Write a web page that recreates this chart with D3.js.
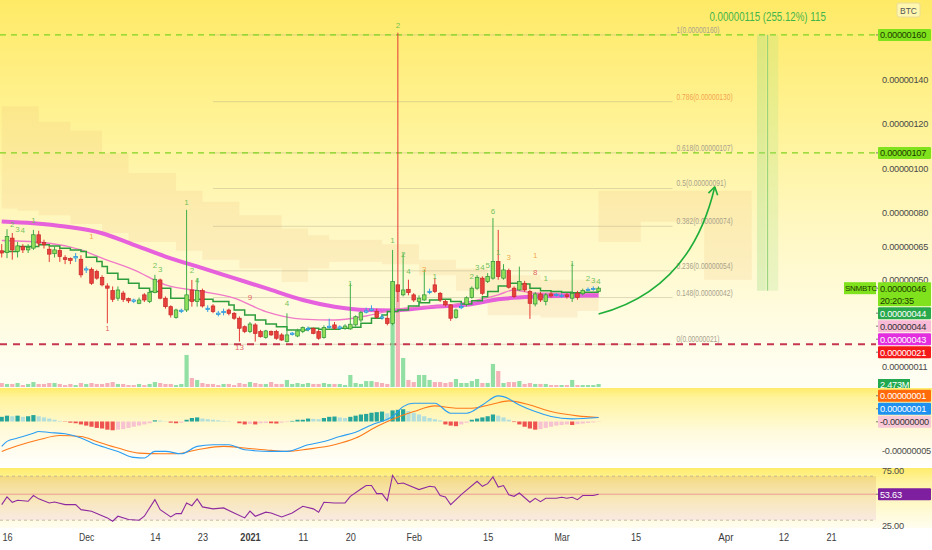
<!DOCTYPE html>
<html>
<head>
<meta charset="utf-8">
<script src="https://cdn.jsdelivr.net/npm/d3@7"></script>
<style>
  body { margin: 0; background: #fff; }
  svg { display: block; font-family: "Liberation Sans", Arial, sans-serif; }
</style>
</head>
<body>
<div id="chart"></div>
<script>
// ---- data (prices in satoshi, 1e-8 BTC) ----
const firstDay = Date.UTC(2020, 10, 15);
const DAY = 86400000;

const opens = [63,62.2,68.7,62.7,64.9,63.4,64.2,70.2,66.7,63.7,
  61.7,63.1,59.9,59.5,59.8,59.2,54.4,54.7,53.7,51,
  47.2,45.1,41.7,44,41.5,40.9,39.4,43.2,40.2,44.2,
  49.9,41.7,37.9,33.1,35.8,36.4,45.4,40.2,45.1,37.2,
  38.2,35.0,35.2,36.4,34.9,32.7,28.9,26.7,29.7,26.7,
  24.1,26.7,26.7,25.2,22.2,25.4,24.7,26.7,27.6,28.2,
  26.7,24,28.5,29.7,28.2,28.0,27.9,29.7,31.9,35.4,
  36.2,35.7,33.3,32.7,30.4,47.7,43.2,45.7,43.2,40.2,
  40.9,44.2,47.7,43.9,40.2,38.7,33.1,37.4,38.9,42,
  46.2,50.7,49.2,50.7,58.2,50.7,54.1,46.2,45.4,48.4,
  44.7,39.1,43.6,40.2,43.6,43.4,42.5,43.2,41.7,44,
  43.7,45.3,45.6,44.7];
const highs = [66,72.7,71,67,66,66,72.4,72,68,65,
  65,64,61,60,62,61,56,55.5,54.5,52,
  48.4,47,47,45,42,41.5,42,44,45,52.2,
  50.5,42.5,38.5,37,37,81.4,49.9,50.7,46,38.5,
  39,36,37,37,35.5,33.5,29.5,31,30.5,27.5,
  27.5,27.2,27.5,26,34.9,26.5,28,29,29,28.5,
  27.5,29.5,32.5,31,29.5,30,48.4,34,36,37.5,
  38.5,37,34.5,34,63.4,161,61.9,50,44,43,
  54.4,46,50.7,44.5,41,39,37,39.5,42.5,47,
  52,51.5,53,77.7,72.4,57,55,47,55.9,49.5,
  45.5,44.5,44.5,44,44.5,44,43.8,44,57.4,45,
  46,46.5,47,47];
const lows = [60,59.7,59,60,62,62,63.4,65,64,58,
  60,58,57,57,58,51,53,47.7,50,47,
  30.4,40,40.5,40,39.5,39.5,39,40,39.5,43.9,
  41.2,37,33,32.5,35,35.5,37.9,37.9,37.5,35.5,
  35,33.5,34,34,32,22.2,26,26,22.2,24,
  23.5,24.8,23,22.5,21.8,24.9,24.2,26,26.8,25.5,
  23,23.5,28,27.5,27.5,27.5,27.5,29,31,34.8,
  35.8,32.5,32,29.5,29.5,40,42.5,43,40,39.5,
  40.5,43.5,44,40,38,31.5,32.5,36.8,38,41.5,
  45.5,43,48.5,50,50,50,46,41.8,45,44.5,
  32.4,38,40,38.5,42,42.4,42,41.5,40,41,
  43,44.9,45,44.2];
const closes = [62,69.4,63.4,65.2,63.4,64.5,70.2,66.4,65.7,61.5,
  63.4,60.4,59.1,58.7,60.4,52.2,54.9,48.4,50.7,47.7,
  46.2,41.2,45.4,41.2,40.5,40.3,40.9,40.9,44.2,50.2,
  41.7,37.9,34.2,36.4,36.3,43.2,40.2,45.1,38.2,36.6,
  35.7,34.4,35.8,34.9,32.7,28.2,26.7,30.1,25.9,24.4,
  27,25.2,23.7,22.9,25.2,26.0,27,28.5,28.1,25.9,
  23.7,28.5,29.1,28.2,28.8,29.2,30,33.4,35.2,36.0,
  36.8,33.1,32.8,30.4,49.2,44.7,45.4,44.2,40.9,41.7,
  43.2,44.8,44.7,40.9,38.7,32.7,36.4,38.0,41.9,46.2,
  51.1,43.9,51.5,58.2,51.4,54.4,46.6,42.4,49.2,45.4,
  39.4,43.6,40.9,43.2,42.7,42.9,43.0,42.4,43.9,42,
  45.2,45.7,46.1,46.2];
// volume in millions
const volumes = [3.3,2.5,2.5,3.3,1.6,2.5,4.1,2.5,2.5,3.3,3.3,2.5,1.6,2.5,1.6,
  3.3,2.5,3.3,2.5,2.5,3.3,4.1,2.5,2.5,1.6,1.6,2.5,1.6,2.5,4.1,3.3,2.5,2.5,1.6,2.5,
  26.4,7.4,5.8,3.3,2.5,2.5,1.6,2.5,2.5,1.6,
  3.3,2.5,4.1,3.3,2.5,2.5,4.1,2.5,2.5,5.8,2.5,3.3,
  2.5,3.3,2.5,2.5,3.3,2.5,2.5,2.5,1.6,9.9,3.3,2.5,4.9,4.9,4.1,3.3,2.5,
  86.5,84,23.9,
  5.8,4.1,9.9,9.9,5.8,4.1,4.1,3.3,4.1,6.6,3.3,3.3,4.9,6.6,3.3,3.3,
  19.0,13.2,3.3,4.1,4.1,4.9,2.5,3.3,2.5,2.5,2.5,1.6,1.6,1.6,1.6,5.8,1.6,1.6,1.6,1.6,2.473];

// moving averages, read at sampled days
const emaSlowDays = [0,6,12,19,25,31,38,44,50,57,63,69,74,82,88,94,101,107,113];
const emaSlow = [76.2,75.4,73.9,70.9,65.7,60.4,55.2,50.7,46.2,40.9,37.9,36.4,36.2,37.9,38.7,41.2,42.4,42.8,42.9];
const emaMidDays = [0,9,15,19,25,31,38,44,50,57,63,69,75,85,94,97,101,113];
const emaMid = [67.6,66.4,63.4,59.7,54.4,47.7,44.7,41.7,35.7,32.3,31.9,33.7,36.8,38.7,43.2,45.4,43.9,43.9];
const stepDays = [0,3,7,9,11,13,15,16,18,19,20,22,24,26,28,30,32,35,37,40,
  43,44,46,48,50,52,54,56,58,60,64,66,68,70,72,73,75,77,79,81,
  83,85,87,89,91,92,94,96,98,100,102,104,106,108,110,113];
const stepVals = [62.7,64.9,65.7,65.2,64.2,63.4,62.7,60.1,58.2,55.9,52.9,50.2,48.4,46.2,44.7,46.2,41.7,40.9,41.2,40.2,
  38.7,36.4,34.2,31.9,30.1,28.9,27.4,27.4,28.2,27.7,28.2,28.6,30.4,32.7,34.2,35.7,36.4,38.2,39.7,40.9,
  41.2,40.2,39.1,40.5,42.4,44.7,47.2,48.4,48.1,46.2,45.1,44.7,44.4,44.2,44.4,44.4];

// cloud (upper / lower edge)
const cloudDays = [0,3,7,13,19,24,33,38,45,53,58,62,72,79,86,92,102,109,113,121,133,142];
const cloudTop = [128,128,121,117,107,98,90,85,79,73,70,68,66,59,55,52,50,50,90,90,90,90];
const cloudBot = [82,81,79,75,71,67,63,59,55,49,55,58,57,52,45,34,33,36,67,76,50,50];

// MACD (1e-8)
const macdDays = [0,1,3,6,7,9,12,15,18,22,25,27,29,31,34,37,40,43,46,51,54,58,61,64,67,70,73,74,76,78,82,85,88,91,94,95,98,101,104,108,113];
const macdLine = [-4.26,-3.4,-2.84,-2.0,-1.71,-1.88,-2.1,-2.84,-3.99,-5.12,-6.15,-6.25,-5.12,-5.12,-5.53,-4.26,-3.99,-3.99,-4.85,-5.12,-5.12,-3.99,-3.42,-2.57,-1.83,-0.58,0.39,0.86,2.55,3.12,3.12,1.42,1.42,2.84,4.38,4.26,2.84,1.70,0.86,0.45,0.68];
const signalDays = [0,3,7,11,15,18,22,26,30,33,37,42,46,51,54,58,63,67,71,74,78,82,86,89,93,96,100,104,109,113];
const signalLine = [-5.12,-4.16,-3.13,-2.4,-2.57,-3.42,-4.55,-5.41,-5.53,-5.53,-4.85,-4.26,-4.55,-4.95,-5.12,-4.73,-3.99,-2.84,-0.86,0.39,1.70,2.67,2.28,2.28,3.01,3.53,2.84,1.70,0.96,0.68];
const histogram = [0.8,1.0,0.9,1.0,0.8,0.9,1.1,0.9,0.7,0.5,0.3,0.1,
  -0.05,-0.2,-0.3,-0.5,-0.7,-0.9,-1.1,-1.2,-1.4,-1.5,
  -1.4,-1.3,-1.1,-0.9,-0.7,-0.5,-0.3,
  0.2,0.15,0.05,-0.2,-0.3,-0.2,
  0.3,0.6,0.7,0.5,0.4,0.3,0.2,0.1,0.05,0.0,
  -0.3,-0.5,-0.4,-0.5,-0.3,-0.25,-0.3,-0.35,-0.2,-0.1,
  0.1,0.3,0.3,0.5,0.45,0.4,0.6,0.8,0.85,0.7,0.6,0.8,
  1.0,1.2,1.3,1.5,1.6,1.7,1.4,
  1.9,2.0,2.1,
  1.8,1.5,1.2,0.9,0.6,0.4,0.2,
  -0.5,-0.7,-0.8,-0.5,-0.2,
  0.3,0.5,0.7,0.9,1.2,
  1.0,0.7,0.3,
  -0.1,-0.5,-0.9,-1.2,-1.4,
  -1.3,-1.1,-0.9,-0.7,-0.6,-0.5,
  -0.6,
  -0.45,-0.35,-0.25,-0.15,-0.05];

// RSI
const rsiDays = [0,1,2,3,5,6,7,9,10,12,14,15,17,20,21,22,24,26,27,29,30,32,33,34,35,36,37,38,40,42,44,46,47,48,50,51,53,55,57,59,60,61,63,65,66,68,69,70,71,72,73,74,75,76,79,81,82,83,84,85,87,90,91,92,93,94,95,96,97,98,100,101,102,103,105,106,107,108,109,110,112,113];
const rsiVals = [44.2,51.2,46.3,48.1,47.2,52.4,49.4,45.7,46.6,44.2,44.2,39.6,38.2,32.1,29.1,33.6,30.6,30.0,33.6,48.7,39.6,33.0,36.0,36.0,45.7,43.2,49.4,42.1,40.3,41.2,36.6,32.1,38.2,33.6,37.3,36.6,33.0,36.6,42.7,40.3,37.3,46.3,45.7,45.7,51.7,58.4,61.5,61.5,54.2,54.2,47.8,70.8,63.2,63.8,57.8,60.8,60.2,52.4,51.2,44.2,53.2,65.4,60.8,63.2,69.3,60.2,61.5,53.2,51.7,54.7,46.3,49.9,46.9,49.9,49.9,50.8,49.9,50.8,48.7,52.4,52.4,53.63];

// fibonacci retracement
const fibLevels = [1, 0.786, 0.618, 0.5, 0.382, 0.236, 0.148, 0];
const fibPrices = [160, 130, 107, 91, 74, 54, 42, 21];
const fibFromDay = 40, fibToDay = 127;
const greenLevels = [160, 107];
const redLevel = 21;

// price range measure
const rangeFromDay = 143, rangeToDay = 147;
const rangeLow = 45.077, rangeHigh = 160.077;

// projected path arrow [day, price]
const arrowFrom = [113, 34.6], arrowCtrl = [130.4, 45.4], arrowTo = [135, 91.8];

// sequential counts [day, text, price, kind]
const tdLabels = [
  [2,"2",73.8,"up"],[3,"3",71.5,"up"],[4,"4",71.1,"up"],[6,"1",75.6,"up"],
  [17,"1",68.4,"warn"],[20,"1",27.0,"down"],[29,"2",55.3,"up"],[30,"3",53.5,"up"],
  [35,"1",83.7,"up"],[36,"2",53.1,"up"],[37,"4",48.6,"up"],[45,"13",18.4,"down"],
  [47,"9",40.9,"down"],[54,"4",38.2,"up"],[66,"1",47.2,"up"],[74,"1",66.6,"up"],
  [75,"2",163.3,"up"],[76,"2",60.3,"up"],[77,"4",52.6,"up"],[80,"3",53.5,"warn"],
  [82,"1",50.4,"up"],[89,"2",50.4,"up"],[90,"3",54.4,"up"],[91,"4",54.4,"up"],
  [92,"5",55.3,"up"],[93,"6",79.7,"up"],[94,"1",61.2,"up"],[96,"3",58.9,"warn"],
  [101,"1",59.8,"warn"],[101,"8",52.2,"down"],[103,"1",49.5,"up"],[108,"1",56.2,"up"],
  [111,"2",49.5,"up"],[112,"3",48.6,"up"],[113,"4",48.2,"up"]
];

// axes
const timeTicks = [[2020,10,16],[2020,11,1],[2020,11,14],[2020,11,23],[2021,0,1],[2021,0,11],[2021,0,20],
  [2021,1,1],[2021,1,15],[2021,2,1],[2021,2,15],[2021,3,1],[2021,3,12],[2021,3,21]];
const timeLabels = ["16","Dec","14","23","2021","11","20","Feb","15","Mar","15","Apr","12","21"];
const priceTicks = [140, 120, 100, 80, 65, 50, 11];
const countdown = "20:20:35";
const symbol = "SNMBTC";

// ---- layout ----
const W = 932, H = 550;
const plotR = 876;
const mainB = 388, macdT = 388, macdB = 468, rsiT = 468, rsiB = 528;
const AX_FS = 9.2, AX_LS = -0.25; // axis text size / letter spacing

const dayDate = i => new Date(firstDay + i * DAY);
const x = d3.scaleUtc().domain([Date.UTC(2020,10,16), Date.UTC(2021,3,21)]).range([7, 831]);
const xd = i => x(dayDate(i));
const y = d3.scaleLinear().domain([0, 175.7]).range([391, 0]);
const yVol = d3.scaleLinear().domain([0, 86.5]).range([387, 282]);
const yMacd = d3.scaleLinear().domain([-5, 0]).range([450.7, 421.5]);
const yRsi = d3.scaleLinear().domain([25, 75]).range([525.7, 470.7]);
const fmt = v => (v * 1e-8).toFixed(8);

// narrow the glyphs the way the condensed terminal font looks
function squeeze(sel, perChar) {
  sel.each(function () {
    const t = d3.select(this), s = t.text();
    if (s.length) t.attr("textLength", s.length * perChar).attr("lengthAdjust", "spacingAndGlyphs");
  });
  return sel;
}

const svg = d3.select("#chart").append("svg").attr("width", W).attr("height", H);
const defs = svg.append("defs");

function vGrad(id, stops) {
  const g = defs.append("linearGradient").attr("id", id)
    .attr("x1", 0).attr("y1", 0).attr("x2", 0).attr("y2", 1);
  stops.forEach(s => g.append("stop").attr("offset", s[0]).attr("stop-color", s[1]).attr("stop-opacity", s[2] == null ? 1 : s[2]));
}
vGrad("bgMain", [[0,"#ffea66"],[0.3,"#fff293"],[0.6,"#fff8c4"],[0.85,"#fffce4"],[1,"#fffef5"]]);
vGrad("bgMacd", [[0,"#ffec6a"],[0.12,"#fff39c"],[0.55,"#fffadc"],[1,"#ffffff"]]);
vGrad("bgRsi", [[0,"#ffec6a"],[0.25,"#fff4a6"],[1,"#fffdf0"]]);
vGrad("rsiBand", [[0,"#e6bd6c",0.45],[0.5,"#eac8a6",0.35],[1,"#efcfe0",0.4]]);

function clip(id, x0, y0, x1, y1) {
  defs.append("clipPath").attr("id", id).append("rect")
    .attr("x", x0).attr("y", y0).attr("width", x1 - x0).attr("height", y1 - y0);
}
clip("clipMain", 0, 0, plotR, mainB);
clip("clipMacd", 0, macdT, plotR, macdB);
clip("clipRsi", 0, rsiT, plotR, rsiB);
clip("clipMainAxis", plotR, 0, W, mainB);

// backgrounds
svg.append("rect").attr("x", 0).attr("y", 0).attr("width", W).attr("height", mainB).attr("fill", "url(#bgMain)");
svg.append("rect").attr("x", 0).attr("y", macdT).attr("width", W).attr("height", macdB - macdT).attr("fill", "url(#bgMacd)");
svg.append("rect").attr("x", 0).attr("y", rsiT).attr("width", W).attr("height", rsiB - rsiT).attr("fill", "url(#bgRsi)");

// ---- main pane ----
const main = svg.append("g").attr("clip-path", "url(#clipMain)");

const cloud = cloudDays.map((d, i) => ({d, t: cloudTop[i], b: cloudBot[i]}));
main.append("path")
  .datum(cloud)
  .attr("d", d3.area().curve(d3.curveStepAfter).x(p => xd(p.d)).y0(p => y(p.b)).y1(p => y(p.t)))
  .attr("fill", "#efc07a").attr("fill-opacity", 0.19);

// fib
fibLevels.forEach((lv, i) => {
  const yy = y(fibPrices[i]);
  main.append("line").attr("x1", xd(fibFromDay)).attr("x2", xd(fibToDay))
    .attr("y1", yy).attr("y2", yy)
    .attr("stroke", "#b9b08a").attr("stroke-opacity", 0.45).attr("stroke-width", 1);
  main.append("text").attr("x", xd(fibToDay) + 4).attr("y", yy - 2)
    .attr("font-size", 8.5).attr("fill", lv === 0.786 ? "#f2a550" : "#a9a28c")
    .text(`${lv}(${fmt(fibPrices[i])})`)
    .call(squeeze, 3.3);
});

// level lines
greenLevels.forEach(v => {
  main.append("line").attr("x1", 0).attr("x2", plotR).attr("y1", y(v)).attr("y2", y(v))
    .attr("stroke", "#7fd321").attr("stroke-width", 1.3).attr("stroke-dasharray", "6,5");
});
main.append("line").attr("x1", 0).attr("x2", plotR).attr("y1", y(redLevel)).attr("y2", y(redLevel))
  .attr("stroke", "#c5364f").attr("stroke-width", 2).attr("stroke-dasharray", "7,6");

// price range measure
const rx0 = xd(rangeFromDay), rx1 = xd(rangeToDay), rxm = (rx0 + rx1) / 2;
main.append("rect").attr("x", rx0).attr("y", y(rangeHigh)).attr("width", rx1 - rx0)
  .attr("height", y(rangeLow) - y(rangeHigh)).attr("fill", "#9fe08a").attr("fill-opacity", 0.22);
main.append("rect").attr("x", rx0).attr("y", y(rangeHigh)).attr("width", (rx1 - rx0) * 0.4)
  .attr("height", y(rangeLow) - y(rangeHigh)).attr("fill", "#9fe08a").attr("fill-opacity", 0.15);
main.append("line").attr("x1", rxm).attr("x2", rxm).attr("y1", y(rangeHigh)).attr("y2", y(rangeLow))
  .attr("stroke", "#8fd07a").attr("stroke-width", 1);
const diff = rangeHigh - rangeLow;
svg.append("text").attr("x", rxm).attr("y", 21).attr("text-anchor", "middle")
  .attr("font-size", 12.5).attr("fill", "#3fb54a")
  .text(`${fmt(diff)} (${(diff / rangeLow * 100).toFixed(2)}%) ${Math.round(diff)}`)
  .call(squeeze, 4.85);

// volume
const n = closes.length;
const bw = 3.6;
main.selectAll("rect.vol").data(volumes).enter().append("rect")
  .attr("class", "vol")
  .attr("x", (v, i) => xd(i) - 2.1).attr("width", 4.2)
  .attr("y", v => yVol(v)).attr("height", v => yVol(0) - yVol(v))
  .attr("fill", (v, i) => closes[i] >= opens[i] ? "#7fd996" : "#f5a3ad")
  .attr("fill-opacity", 0.85);

// moving averages
const line = d3.line().curve(d3.curveMonotoneX).x(p => xd(p[0])).y(p => y(p[1]));
main.append("path").attr("d", line(emaSlowDays.map((d, i) => [d, emaSlow[i]])))
  .attr("fill", "none").attr("stroke", "#e350dd").attr("stroke-width", 4).attr("stroke-opacity", 0.9);
main.append("path").attr("d", line(emaMidDays.map((d, i) => [d, emaMid[i]])))
  .attr("fill", "none").attr("stroke", "#f07ac8").attr("stroke-width", 1.4);
main.append("path").attr("d", d3.line().curve(d3.curveStepAfter).x(p => xd(p[0])).y(p => y(p[1]))(stepDays.map((d, i) => [d, stepVals[i]])))
  .attr("fill", "none").attr("stroke", "#2e9d3c").attr("stroke-width", 1.5);

// candles
const candles = d3.range(n).map(i => ({i, o: opens[i], h: highs[i], l: lows[i], c: closes[i]}));
const kindOf = d => Math.abs(d.c - d.o) < 0.7 ? "doji" : (d.c >= d.o ? "up" : "down");
const cStyle = {
  up:   {fill: "#8ee05a", stroke: "#2f8f3a", wick: "#3fae49"},
  down: {fill: "#e8413c", stroke: "#c62828", wick: "#e53935"},
  doji: {fill: "#86d8f5", stroke: "#1f8fd6", wick: "#3aa0e0"}
};
const cg = main.selectAll("g.candle").data(candles).enter().append("g").attr("class", "candle");
cg.append("line")
  .attr("x1", d => xd(d.i)).attr("x2", d => xd(d.i))
  .attr("y1", d => y(d.h)).attr("y2", d => y(d.l))
  .attr("stroke", d => cStyle[kindOf(d)].wick).attr("stroke-width", 1);
cg.append("rect")
  .attr("x", d => xd(d.i) - bw / 2).attr("width", bw)
  .attr("y", d => y(Math.max(d.o, d.c)))
  .attr("height", d => Math.max(1.2, Math.abs(y(d.o) - y(d.c))))
  .attr("fill", d => cStyle[kindOf(d)].fill)
  .attr("stroke", d => cStyle[kindOf(d)].stroke).attr("stroke-width", 0.7);

// sequential counts
const tdColor = {up: "#5fba4e", warn: "#efa13a", down: "#e05252"};
main.selectAll("text.td").data(tdLabels).enter().append("text")
  .attr("class", "td")
  .attr("x", d => xd(d[0])).attr("y", d => y(d[2]))
  .attr("text-anchor", "middle").attr("font-size", 8)
  .attr("fill", d => tdColor[d[3]]).attr("fill-opacity", 0.9)
  .text(d => d[1]);

// arrow
const a0 = [xd(arrowFrom[0]), y(arrowFrom[1])];
const ac = [xd(arrowCtrl[0]), y(arrowCtrl[1])];
const a1 = [xd(arrowTo[0]), y(arrowTo[1])];
const ap = d3.path();
ap.moveTo(a0[0], a0[1]);
ap.quadraticCurveTo(ac[0], ac[1], a1[0], a1[1]);
main.append("path").attr("d", ap.toString()).attr("fill", "none")
  .attr("stroke", "#1fae3a").attr("stroke-width", 1.6);
const ang = Math.atan2(a1[1] - ac[1], a1[0] - ac[0]);
const head = d3.path();
[-0.55, 0.55].forEach(da => {
  head.moveTo(a1[0], a1[1]);
  head.lineTo(a1[0] - 9 * Math.cos(ang + da), a1[1] - 9 * Math.sin(ang + da));
});
main.append("path").attr("d", head.toString()).attr("fill", "none")
  .attr("stroke", "#1fae3a").attr("stroke-width", 1.6);

// ---- MACD pane ----
const macd = svg.append("g").attr("clip-path", "url(#clipMacd)");
macd.selectAll("rect.h").data(histogram).enter().append("rect")
  .attr("class", "h")
  .attr("x", (v, i) => xd(i) - 2.1).attr("width", 4.2)
  .attr("y", v => Math.min(yMacd(v), yMacd(0)))
  .attr("height", v => Math.abs(yMacd(v) - yMacd(0)))
  .attr("fill", (v, i) => {
    const p = i > 0 ? histogram[i - 1] : -Infinity;
    if (v >= 0) return v >= p ? "#26a69a" : "#b2dfdb";
    return v < p ? "#ef5350" : "#f8c3d0";
  });
const mline = d3.line().curve(d3.curveMonotoneX).x(p => xd(p[0])).y(p => yMacd(p[1]));
macd.append("path").attr("d", mline(signalDays.map((d, i) => [d, signalLine[i]])))
  .attr("fill", "none").attr("stroke", "#ff7a1a").attr("stroke-width", 1.1);
macd.append("path").attr("d", mline(macdDays.map((d, i) => [d, macdLine[i]])))
  .attr("fill", "none").attr("stroke", "#2a9df4").attr("stroke-width", 1.1);

// ---- RSI pane ----
const rsi = svg.append("g").attr("clip-path", "url(#clipRsi)");
rsi.append("rect").attr("x", 0).attr("width", plotR)
  .attr("y", yRsi(70)).attr("height", yRsi(30) - yRsi(70)).attr("fill", "url(#rsiBand)");
[70, 30].forEach(v => rsi.append("line").attr("x1", 0).attr("x2", plotR)
  .attr("y1", yRsi(v)).attr("y2", yRsi(v))
  .attr("stroke", "#b8ad90").attr("stroke-dasharray", "3,3").attr("stroke-width", 0.8));
const rsiLast = rsiVals[rsiVals.length - 1];
rsi.append("line").attr("x1", 0).attr("x2", plotR).attr("y1", yRsi(rsiLast)).attr("y2", yRsi(rsiLast))
  .attr("stroke", "#e8898a").attr("stroke-width", 0.8);
rsi.append("path")
  .attr("d", d3.line().x(p => xd(p[0])).y(p => yRsi(p[1]))(rsiDays.map((d, i) => [d, rsiVals[i]])))
  .attr("fill", "none").attr("stroke", "#8e2aa0").attr("stroke-width", 1.1);

// ---- time axis ----
const xAxis = d3.axisBottom(x)
  .tickValues(timeTicks.map(t => new Date(Date.UTC(t[0], t[1], t[2]))))
  .tickFormat((d, i) => timeLabels[i]).tickSize(0).tickPadding(6);
const gx = svg.append("g").attr("transform", `translate(0,${rsiB})`).call(xAxis);
gx.select(".domain").remove();
gx.selectAll("text").attr("font-size", 10.5).attr("fill", "#3c3c3c")
  .attr("font-family", "\"Liberation Sans\", Arial, sans-serif")
  .attr("font-weight", (d, i) => timeLabels[i] === "2021" ? "bold" : null)
  .call(squeeze, 5.1);

// ---- price axes ----
function plainAxis(scale, values, format) {
  const g = svg.append("g").attr("transform", `translate(${plotR},0)`)
    .call(d3.axisRight(scale).tickValues(values).tickFormat(format).tickSize(0).tickPadding(6));
  g.select(".domain").remove();
  g.selectAll("text").attr("font-size", AX_FS).attr("letter-spacing", AX_LS).attr("fill", "#4a4a4a")
    .attr("font-family", "\"Liberation Sans\", Arial, sans-serif");
}
plainAxis(y, priceTicks, fmt);
plainAxis(yMacd, [-5], fmt);
plainAxis(yRsi, [75, 25], v => v.toFixed(2));

function tag(cy, lines, bg, fg) {
  const h = 12 * lines.length;
  svg.append("line").attr("x1", plotR).attr("x2", plotR + 3).attr("y1", cy).attr("y2", cy).attr("stroke", "#777");
  svg.append("rect").attr("x", plotR + 2).attr("y", cy - 6).attr("width", W - plotR - 3).attr("height", h)
    .attr("fill", bg).attr("rx", 1);
  lines.forEach((t, k) => svg.append("text").attr("x", plotR + 4).attr("y", cy + 3.5 + 12 * k)
    .attr("font-size", AX_FS).attr("letter-spacing", AX_LS).attr("fill", fg).text(t));
}
function stackDown(items) {
  let bottom = -Infinity;
  items.sort((a, b) => a.cy - b.cy).forEach(it => {
    it.cy = Math.max(it.cy, bottom + 7);
    bottom = it.cy - 6 + 12 * it.lines.length;
  });
  return items;
}
function stackUp(items) {
  let top = Infinity;
  items.forEach(it => {
    it.cy = Math.min(it.cy, top - 7);
    top = it.cy - 6;
  });
  return items;
}

// level tags
greenLevels.forEach(v => tag(y(v), [fmt(v)], "#80e21c", "#1d3b00"));

// volume tag, cut by the MACD pane edge
const volLast = volumes[n - 1];
const volAxis = svg.append("g").attr("clip-path", "url(#clipMainAxis)");
{
  const cy = yVol(volLast) + 1;
  volAxis.append("rect").attr("x", plotR + 2).attr("y", cy - 6).attr("width", 32).attr("height", 12).attr("fill", "#22a94f");
  volAxis.append("text").attr("x", plotR + 4).attr("y", cy + 3.5).attr("font-size", AX_FS).attr("letter-spacing", AX_LS)
    .attr("fill", "#fff").text(volLast.toFixed(3) + "M");
}

const mainTags = stackDown([
  {cy: y(closes[n - 1]), lines: [fmt(closes[n - 1]), countdown], bg: "#80e21c", fg: "#1d3b00"},
  {cy: y(stepVals[stepVals.length - 1]), lines: [fmt(stepVals[stepVals.length - 1])], bg: "#2aa84c", fg: "#ffffff"},
  {cy: y(emaMid[emaMid.length - 1]), lines: [fmt(emaMid[emaMid.length - 1])], bg: "#f8bad6", fg: "#333333"},
  {cy: y(emaSlow[emaSlow.length - 1]), lines: [fmt(emaSlow[emaSlow.length - 1])], bg: "#e32ee0", fg: "#ffffff"},
  {cy: y(redLevel), lines: [fmt(redLevel)], bg: "#f51a1a", fg: "#ffffff"}
]);
mainTags.forEach(t => tag(t.cy, t.lines, t.bg, t.fg));

// symbol label
const symY = mainTags[0].cy;
svg.append("rect").attr("x", plotR - 32).attr("y", symY - 6).attr("width", 32).attr("height", 12).attr("fill", "#80e21c");
svg.append("text").attr("x", plotR - 31).attr("y", symY + 3).attr("font-size", 8).attr("letter-spacing", -0.3)
  .attr("fill", "#1d3b00").text(symbol);

const macdTags = stackUp([
  {cy: yMacd(histogram[n - 1]), lines: [fmt(histogram[n - 1])], bg: "#f8c8d6", fg: "#333333"},
  {cy: yMacd(macdLine[macdLine.length - 1]), lines: [fmt(macdLine[macdLine.length - 1])], bg: "#1e90f0", fg: "#ffffff"},
  {cy: yMacd(signalLine[signalLine.length - 1]), lines: [fmt(signalLine[signalLine.length - 1])], bg: "#ff6a0a", fg: "#ffffff"}
]);
macdTags.forEach(t => tag(t.cy, t.lines, t.bg, t.fg));

tag(yRsi(rsiLast), [rsiLast.toFixed(2)], "#7e1fa0", "#ffffff");

// currency label
svg.append("rect").attr("x", 897).attr("y", 3).attr("width", 23).attr("height", 14).attr("rx", 2)
  .attr("fill", "#fff6b0").attr("stroke", "#e8dc9a");
svg.append("text").attr("x", 908.5).attr("y", 13.5).attr("text-anchor", "middle")
  .attr("font-size", 8.5).attr("fill", "#555").text("BTC");
</script>
</body>
</html>
